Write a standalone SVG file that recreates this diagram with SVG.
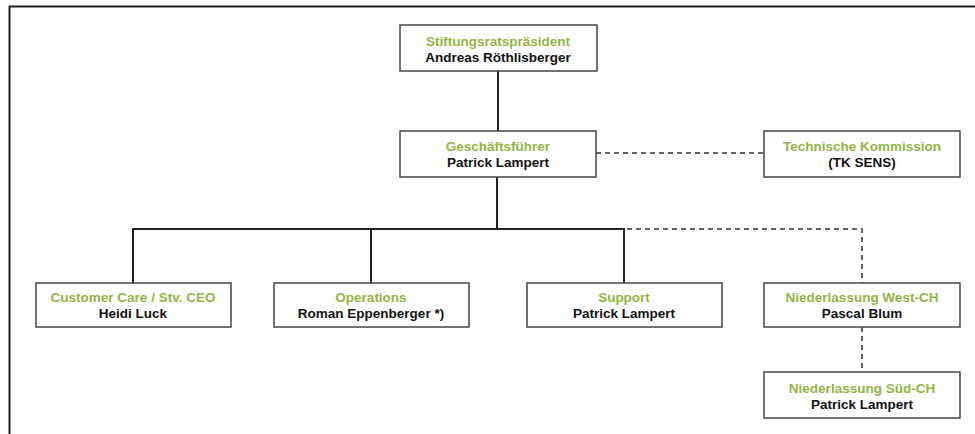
<svg xmlns="http://www.w3.org/2000/svg" width="975" height="434" viewBox="0 0 975 434">
<style>
.box{fill:#fff;stroke:#444;stroke-width:1.5}
.t1{font-family:"Liberation Sans",Arial,sans-serif;font-weight:bold;font-size:13.5px;fill:#93b545;text-anchor:middle}
.t2{font-family:"Liberation Sans",Arial,sans-serif;font-weight:bold;font-size:13.5px;fill:#111;text-anchor:middle}
.solid{stroke:#222;stroke-width:2;fill:none}
.dash{stroke:#333;stroke-width:1.5;fill:none;stroke-dasharray:5,4}
</style>
<rect x="0" y="0" width="975" height="434" fill="#fff"/>
<path d="M9.5,434 V6.5 H975" stroke="#222" stroke-width="2" fill="none"/>
<g id="connectors">
<line class="solid" x1="498" y1="71" x2="498" y2="131"/>
<line class="solid" x1="497" y1="177" x2="497" y2="229"/>
<line class="solid" x1="132" y1="229" x2="625" y2="229"/>
<line class="solid" x1="133" y1="229" x2="133" y2="283"/>
<line class="solid" x1="371" y1="229" x2="371" y2="283"/>
<line class="solid" x1="624" y1="229" x2="624" y2="283"/>
<line class="dash" x1="596" y1="153" x2="764" y2="153"/>
<path class="dash" d="M627,229 H862 V283"/>
<line class="dash" x1="862" y1="327" x2="862" y2="372"/>
</g>
<g id="praesident">
<rect class="box" x="400" y="25" width="197" height="46"/>
<text class="t1" x="498" y="46">Stiftungsratspräsident</text>
<text class="t2" x="498" y="62">Andreas Röthlisberger</text>
</g>
<g id="geschaeftsfuehrer">
<rect class="box" x="400" y="131" width="196" height="46"/>
<text class="t1" x="498" y="151">Geschäftsführer</text>
<text class="t2" x="498" y="167">Patrick Lampert</text>
</g>
<g id="tk">
<rect class="box" x="764" y="131" width="196" height="46"/>
<text class="t1" x="862" y="151">Technische Kommission</text>
<text class="t2" x="862" y="167">(TK SENS)</text>
</g>
<g id="customer-care">
<rect class="box" x="36" y="283" width="195" height="44"/>
<text class="t1" x="133" y="302">Customer Care / Stv. CEO</text>
<text class="t2" x="133" y="318">Heidi Luck</text>
</g>
<g id="operations">
<rect class="box" x="274" y="283" width="195" height="44"/>
<text class="t1" x="371" y="302">Operations</text>
<text class="t2" x="371" y="318">Roman Eppenberger *)</text>
</g>
<g id="support">
<rect class="box" x="527" y="283" width="195" height="44"/>
<text class="t1" x="624" y="302">Support</text>
<text class="t2" x="624" y="318">Patrick Lampert</text>
</g>
<g id="west">
<rect class="box" x="764" y="283" width="196" height="44"/>
<text class="t1" x="862" y="302">Niederlassung West-CH</text>
<text class="t2" x="862" y="318">Pascal Blum</text>
</g>
<g id="sued">
<rect class="box" x="764" y="372" width="196" height="46"/>
<text class="t1" x="862" y="393">Niederlassung Süd-CH</text>
<text class="t2" x="862" y="409">Patrick Lampert</text>
</g>
</svg>
